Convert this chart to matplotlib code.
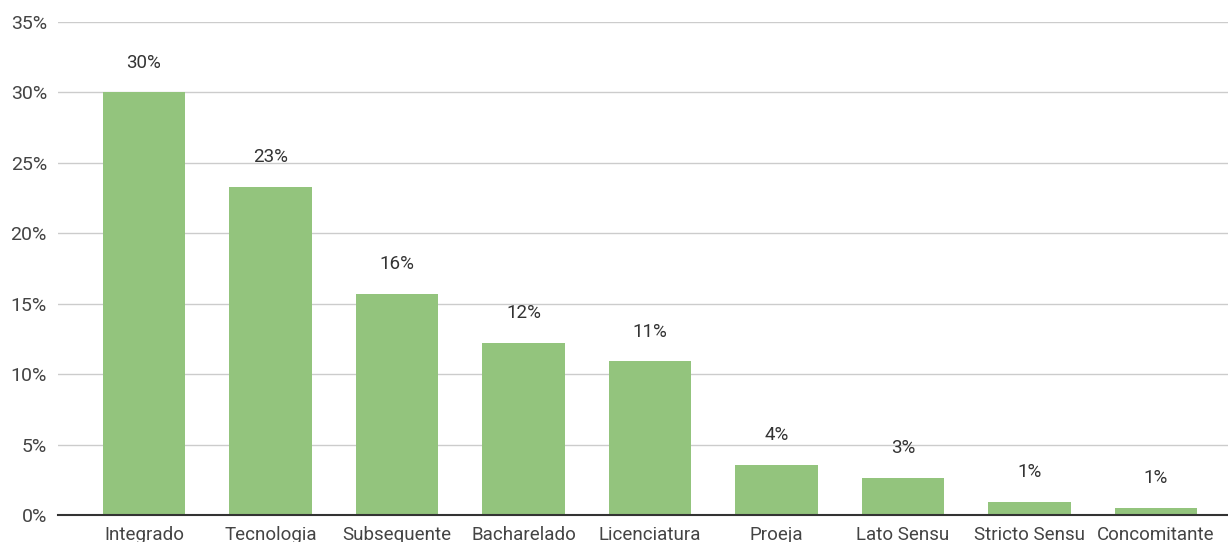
import matplotlib.pyplot as plt
from matplotlib.ticker import FuncFormatter

plt.rcParams['font.family'] = ['Roboto', 'DejaVu Sans']

categorias = ['Integrado', 'Tecnologia', 'Subsequente', 'Bacharelado', 'Licenciatura',
              'Proeja', 'Lato Sensu', 'Stricto Sensu', 'Concomitante']
percentuais = [30.0, 23.3, 15.7, 12.2, 10.9, 3.55, 2.65, 0.95, 0.52]

fig = plt.figure(figsize=(12.28, 5.42), dpi=100)
ax = fig.add_axes([58 / 1228, 1 - 515 / 542, 1 - 58 / 1228, (515 - 22) / 542])

x = list(range(len(categorias)))
ax.bar(x, percentuais, width=0.65, color='#93c47d', zorder=3)

for xi, v in zip(x, percentuais):
    ax.annotate(f'{int(v + 0.5)}%', (xi, v), xytext=(0, 21.5), textcoords='offset points',
                ha='center', va='center', fontsize=13.5, color='#333333')

ax.set_ylim(0, 35)
ax.set_xlim(-0.68, 8.57)
ax.set_yticks(range(0, 36, 5))
ax.yaxis.set_major_formatter(FuncFormatter(lambda v, p: f'{v:.0f}%'))
ax.set_xticks(x)
ax.set_xticklabels(categorias)
ax.tick_params(axis='both', length=0, labelcolor='#444444')
ax.tick_params(axis='y', pad=8, labelsize=14)
ax.tick_params(axis='x', pad=8, labelsize=13.5)

ax.grid(axis='y', color='#cccccc', linewidth=1, zorder=0)
for s in ['top', 'right', 'left']:
    ax.spines[s].set_visible(False)
ax.spines['bottom'].set_color('#333333')
ax.spines['bottom'].set_linewidth(1.5)
ax.spines['bottom'].set_zorder(4)

fig.savefig('out.png', dpi=100)
